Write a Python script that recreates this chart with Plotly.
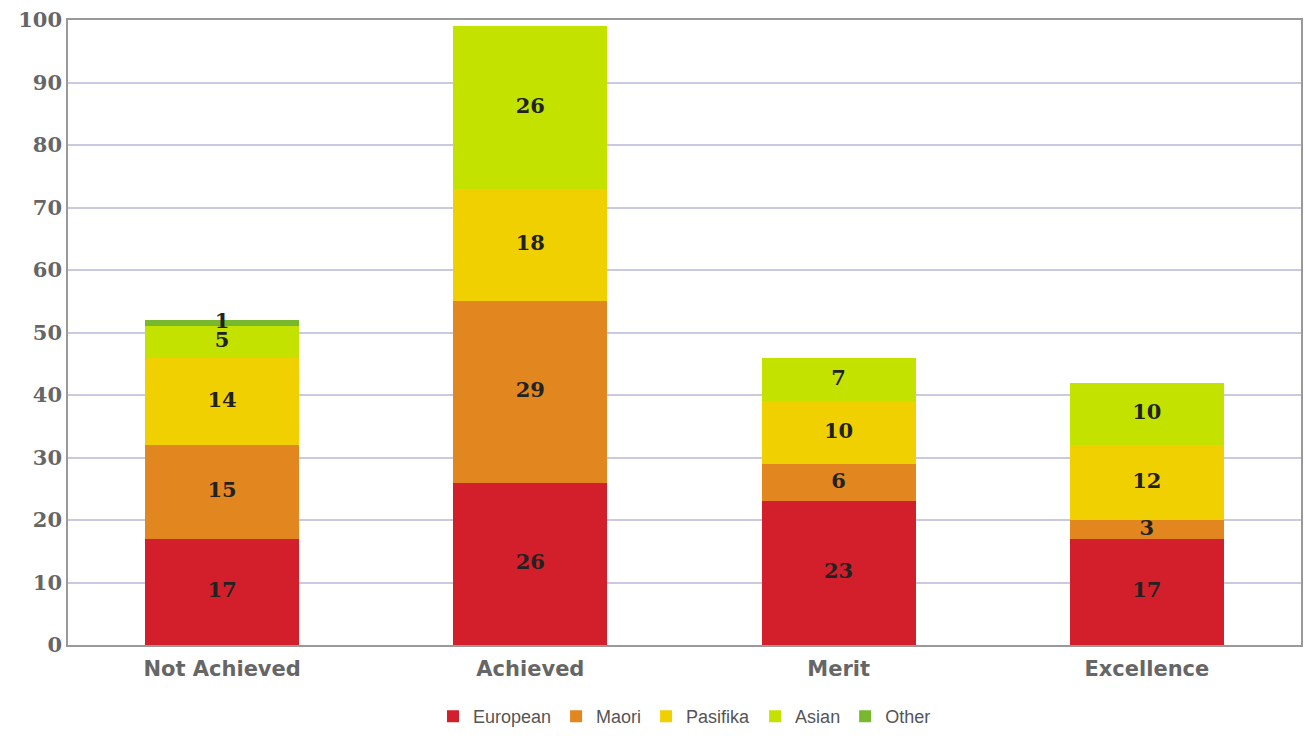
import plotly.graph_objects as go

categories = ["Not Achieved", "Achieved", "Merit", "Excellence"]
series_names = ["European", "Maori", "Pasifika", "Asian", "Other"]
european = [17, 26, 23, 17]
maori = [15, 29, 6, 3]
pasifika = [14, 18, 10, 12]
asian = [5, 26, 7, 10]
other = [1, 0, 0, 0]
colors = ["#d21f2b", "#e2861f", "#f0d000", "#c4e200", "#78b82e"]
y_ticks = list(range(0, 101, 10))

all_series = [european, maori, pasifika, asian, other]

fig = go.Figure()
base = [0] * len(categories)
lab_x, lab_y, lab_t = [], [], []
for name, vals, col in zip(series_names, all_series, colors):
    fig.add_trace(go.Bar(
        name=name, x=categories, y=vals,
        marker=dict(color=col, line=dict(width=0)),
        width=0.5, hoverinfo="y+name",
    ))
    for i, v in enumerate(vals):
        if v:
            lab_x.append(categories[i])
            lab_y.append(base[i] + v / 2)
            lab_t.append(str(v))
        base[i] += v

fig.add_trace(go.Scatter(
    x=lab_x, y=lab_y, text=lab_t, mode="text", showlegend=False,
    textposition="middle center", hoverinfo="skip",
    textfont=dict(family="DejaVu Serif", size=21, color="#222222", weight="bold"),
))

fig.update_layout(
    barmode="stack",
    width=1305, height=740,
    margin=dict(l=68, r=2, t=20, b=95),
    plot_bgcolor="white", paper_bgcolor="white",
    showlegend=True,
    legend=dict(orientation="h", x=0.5, xanchor="center", y=-0.085, yanchor="top",
                font=dict(family="Liberation Sans", size=18, color="#555555"),
                traceorder="normal"),
    xaxis=dict(showline=True, linecolor="#999999", linewidth=1.5, mirror=True,
               tickfont=dict(family="DejaVu Sans", size=21, color="#666666", weight="bold"),
               ticks="", ticklabelstandoff=4),
    yaxis=dict(range=[0, 100], tickvals=y_ticks, showline=True, linecolor="#999999",
               linewidth=1.5, mirror=True, gridcolor="#c9c9e2", gridwidth=1.5,
               tickfont=dict(family="DejaVu Serif", size=21, color="#666666", weight="bold"),
               ticks="", zeroline=False),
)

fig.write_html("out.html")
